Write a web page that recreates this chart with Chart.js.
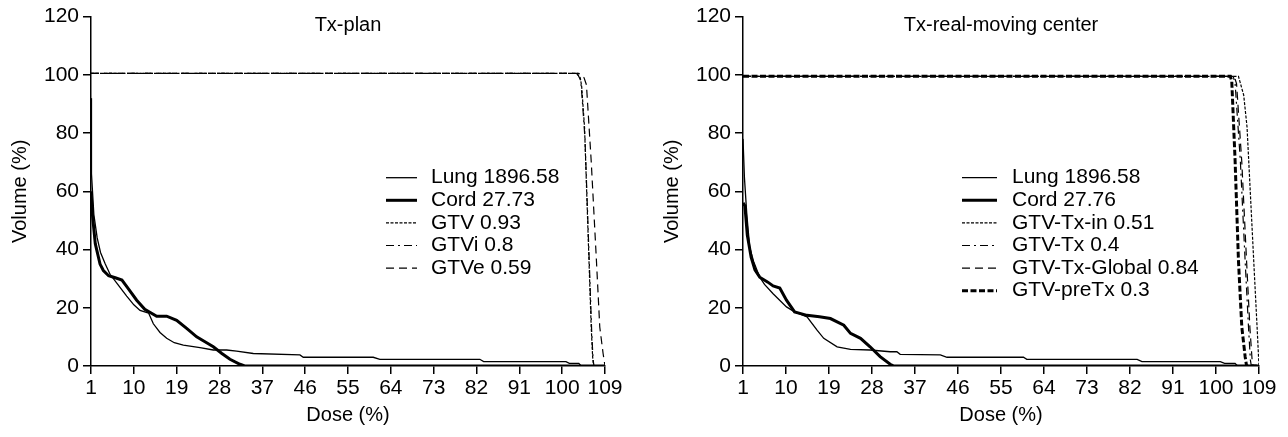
<!DOCTYPE html>
<html>
<head>
<meta charset="utf-8">
<script src="https://cdn.jsdelivr.net/npm/chart.js@4.4.1/dist/chart.umd.min.js"></script>
<style>
  html, body { margin: 0; padding: 0; background: #fff; }
  #wrap { position: relative; width: 1288px; height: 437px; }
  .box { position: absolute; top: 0; width: 644px; height: 437px; }
  #box-plan { left: 0; }
  #box-real { left: 644px; }
</style>
</head>
<body>
<div id="wrap">
  <div class="box" id="box-plan"><canvas id="chart-plan"></canvas></div>
  <div class="box" id="box-real"><canvas id="chart-real"></canvas></div>
</div>
<script>
// tick labels
const doseTicks = [1, 10, 19, 28, 37, 46, 55, 64, 73, 82, 91, 100, 109];
const volumeTicks = [0, 20, 40, 60, 80, 100, 120];

// Tx-plan curves [dose, volume]
const planLung = [[1,92],[1.1,66],[1.6,52],[2.3,44],[3,39],[4,35],[5,31.5],[6.5,28.3],[8.5,24],[10,21],[11.3,19.1],[13.1,18.2],[14.1,14.5],[15.5,11.5],[16.9,9.5],[18.5,8],[20.4,7.2],[23.9,6.3],[26.7,5.5],[29.5,5.5],[31.6,5.1],[35.1,4.3],[44.9,3.8],[45.6,3.0],[60.3,3.0],[61.7,2.3],[82.7,2.3],[83.5,1.5],[100.8,1.5],[101.5,0.9],[103.5,0.9],[104,0],[109,0]];
const planCord = [[1,60],[1.3,52],[1.9,42],[2.9,35],[3.6,32.8],[4.7,31],[6.1,30.3],[7.5,29.5],[8.6,27.1],[10.6,22.6],[12.3,19.5],[14.8,17.1],[16.9,17.1],[19,15.7],[21.1,12.9],[23.2,10],[25.3,8],[26.7,6.6],[28.5,4.3],[30.2,2.3],[32.3,0.6],[33.3,0],[109,0]];
const planGtv = [[1,100.5],[103,100.5],[103.8,99],[104.1,96],[104.7,82],[105.4,47.6],[106.1,13.4],[106.4,3.2],[106.6,0],[109,0]];
const planGtvi = [[1,100.5],[103.2,100.5],[103.9,98],[104.2,92],[104.8,78],[105.5,45],[106.2,12],[106.5,2],[106.7,0],[109,0]];
const planGtve = [[1,100.5],[103.5,100.5],[104.6,99],[105.1,96.6],[106.1,70.4],[107.2,36.2],[107.9,13.4],[108.6,4.3],[109,0]];

// Tx-real-moving center curves [dose, volume]
const realLung = [[1,78],[1.3,64.7],[1.8,52],[2.4,40.8],[3.2,36],[4.5,30.5],[5.5,28],[7.3,24.8],[10.1,20.3],[11.8,18.6],[14.4,16.9],[16.5,12.3],[17.9,9.5],[20.7,6.6],[23.5,5.7],[27.6,5.5],[31.8,4.9],[33.2,4.9],[33.9,4.0],[42.3,3.8],[43.7,3.0],[59.7,3.0],[60.4,2.3],[83.5,2.3],[84.5,1.5],[100.9,1.5],[101.8,0.9],[104,0.9],[104.5,0],[109,0]];
const realCord = [[1,56],[1.4,55],[1.9,45],[2.7,37.4],[3.5,33],[4.5,30.5],[6.2,28.8],[7.3,27.5],[8.7,26.8],[10.1,22.6],[11.8,18.6],[14.4,17.4],[17,16.9],[19.3,16.3],[22.1,14],[23.5,11.2],[25.6,9.5],[27.6,6.6],[29.7,3.2],[31.8,0.6],[32.6,0],[109,0]];
const realTxIn = [[1,99.5],[104.7,99.5],[105.8,93],[106.5,82],[107.2,59],[107.9,36],[108.6,13.4],[109,0]];
const realTx = [[1,99.5],[103.6,99.5],[104,97],[105.1,70.4],[106.1,36],[106.8,13.4],[107.2,2],[107.4,0],[109,0]];
const realTxGlobal = [[1,99.5],[103.8,99.5],[104.3,97],[105.4,70],[106.4,36],[107.1,13],[107.6,1],[107.8,0],[109,0]];
const realPreTx = [[1,99.5],[103,99.5],[103.3,97.8],[104,70.4],[104.7,36.2],[105.4,13.4],[106.1,3.2],[106.4,0],[109,0]];

const FONT = '"Liberation Sans", Arial, sans-serif';
Chart.defaults.font.family = FONT;
Chart.defaults.font.size = 21;
Chart.defaults.color = '#000';

function line(label, pts, width, dash) {
  return {
    label: label,
    data: pts.map(p => ({ x: p[0], y: p[1] })),
    borderColor: '#000',
    borderWidth: width,
    borderDash: dash,
    pointRadius: 0,
    tension: 0,
    fill: false
  };
}

// legend + title drawn inside the plot area
const insideLegend = {
  id: 'insideLegend',
  afterDraw(chart, args, opts) {
    const ctx = chart.ctx;
    const a = chart.chartArea;
    ctx.save();
    ctx.fillStyle = '#000';
    ctx.strokeStyle = '#000';
    ctx.font = '21px ' + FONT;
    ctx.textBaseline = 'middle';
    chart.data.datasets.forEach((ds, i) => {
      const y = opts.top + i * opts.rowGap;
      ctx.beginPath();
      ctx.lineWidth = ds.borderWidth;
      ctx.setLineDash(ds.borderDash || []);
      ctx.moveTo(opts.x1, y);
      ctx.lineTo(opts.x2, y);
      ctx.stroke();
      ctx.setLineDash([]);
      ctx.textAlign = 'left';
      ctx.fillText(ds.label, opts.textX, y);
    });
    ctx.font = '20px ' + FONT;
    ctx.textAlign = 'center';
    ctx.fillText(opts.title, (a.left + a.right) / 2, opts.titleY);
    ctx.restore();
  }
};

function makeChart(id, datasets, pad, legendOpts) {
  const axisGrid = { drawOnChartArea: false, drawTicks: true, tickLength: 8, color: '#000', lineWidth: 1.5 };
  return new Chart(document.getElementById(id), {
    type: 'line',
    data: { datasets: datasets },
    plugins: [insideLegend],
    options: {
      responsive: true,
      maintainAspectRatio: false,
      animation: false,
      events: [],
      layout: { padding: pad },
      plugins: {
        legend: { display: false },
        tooltip: { enabled: false },
        insideLegend: legendOpts
      },
      scales: {
        x: {
          type: 'linear',
          min: 1,
          max: 109,
          afterBuildTicks: s => { s.ticks = doseTicks.map(v => ({ value: v })); },
          afterFit: s => { s.height = 71; },
          grid: axisGrid,
          border: { color: '#000', width: 1.5 },
          ticks: { padding: 2, maxRotation: 0, autoSkip: false },
          title: { display: true, text: 'Dose (%)', font: { size: 20 }, padding: { top: 2, bottom: 10 } }
        },
        y: {
          min: 0,
          max: 120,
          afterBuildTicks: s => { s.ticks = volumeTicks.map(v => ({ value: v })); },
          afterFit: s => { s.width = 91; },
          grid: axisGrid,
          border: { color: '#000', width: 1.5 },
          ticks: { padding: 4 },
          title: { display: true, text: 'Volume (%)', font: { size: 20 }, padding: { top: 8, bottom: 4 } }
        }
      }
    }
  });
}

makeChart('chart-plan', [
  line('Lung 1896.58', planLung, 1.3, []),
  line('Cord 27.73', planCord, 3, []),
  line('GTV 0.93', planGtv, 1.2, [3, 1.5]),
  line('GTVi 0.8', planGtvi, 1.2, [8, 4, 2, 4]),
  line('GTVe 0.59', planGtve, 1.2, [8, 5])
], { left: 0, right: 39, top: 15, bottom: 0 },
  { title: 'Tx-plan', titleY: 25, x1: 386, x2: 417, textX: 431, top: 177.7, rowGap: 22.6 });

makeChart('chart-real', [
  line('Lung 1896.58', realLung, 1.3, []),
  line('Cord 27.76', realCord, 3, []),
  line('GTV-Tx-in 0.51', realTxIn, 1.2, [3, 1.5]),
  line('GTV-Tx 0.4', realTx, 1.2, [8, 4, 2, 4]),
  line('GTV-Tx-Global 0.84', realTxGlobal, 1.2, [8, 5]),
  line('GTV-preTx 0.3', realPreTx, 3, [6, 2.5])
], { left: 8, right: 29, top: 15, bottom: 0 },
  { title: 'Tx-real-moving center', titleY: 25, x1: 318, x2: 353, textX: 368, top: 177.7, rowGap: 22.6 });
</script>
</body>
</html>
